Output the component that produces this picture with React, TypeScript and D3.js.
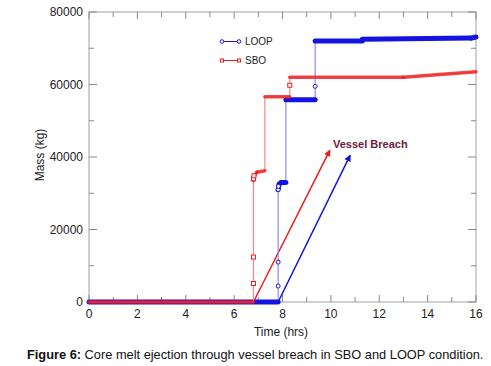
import * as d3 from 'd3';

// SBO case (red) - step-like mass history
const sboTime = [0, 6.8, 6.8, 6.85, 6.95, 7.27, 7.27, 8.3, 8.3, 13.0, 16];
const sboMass = [0, 0, 33500, 35000, 35800, 36200, 56600, 56600, 62000, 62000, 63500];
const sboMarkTime = [6.8, 6.8, 6.8, 6.82, 8.3];
const sboMarkMass = [5100, 12400, 34000, 34800, 59800];

// LOOP case (blue)
const loopTime = [0, 7.82, 7.82, 7.86, 7.95, 8.14, 8.14, 9.35, 9.35, 11.3, 11.3, 15.8, 16];
const loopMass = [0, 0, 31000, 32500, 33000, 33000, 55800, 55800, 72000, 72000, 72500, 72800, 73100];
const loopMarkTime = [7.82, 7.82, 7.82, 7.83, 9.35];
const loopMarkMass = [4400, 11000, 31000, 31900, 59500];

// vessel breach arrows [t0, m0, t1, m1]
const sboArrow = [6.8, 0, 9.96, 41900];
const loopArrow = [7.82, 0, 10.8, 40500];

const xTicks = [0, 2, 4, 6, 8, 10, 12, 14, 16];
const yTicks = [0, 20000, 40000, 60000, 80000];

const W = 491;
const H = 366;
const left = 89, right = 476, top = 12, bottom = 302;

const RED = '#ee1c1c';
const RED_LIGHT = '#f28a8a';
const BLUE = '#1414e0';
const BLUE_LIGHT = '#8c8cf0';
const FONT = 'Arial, "Liberation Sans", sans-serif';

export default function App() {
  const x = d3.scaleLinear().domain([0, 16]).range([left, right]);
  const y = d3.scaleLinear().domain([0, 80000]).range([bottom, top]);

  const line = d3.line<[number, number]>().x(d => x(d[0])).y(d => y(d[1]));

  const pts = (t: number[], m: number[]) => t.map((v, i) => [v, m[i]] as [number, number]);
  const sboPts = pts(sboTime, sboMass);
  const loopPts = pts(loopTime, loopMass);

  // thick segments for non-vertical parts (dense markers in original)
  const flat = (p: [number, number][]) => {
    const out: [number, number][][] = [];
    for (let i = 1; i < p.length; i++) {
      if (p[i][0] !== p[i - 1][0]) out.push([p[i - 1], p[i]]);
    }
    return out;
  };

  const xMinor = d3.range(0, 17, 1);
  const yMinor = d3.range(0, 80001, 10000);

  const arrow = (a: number[], color: string, id: string) => (
    <line x1={x(a[0])} y1={y(a[1])} x2={x(a[2])} y2={y(a[3])}
      stroke={color} strokeWidth={1.5} markerEnd={`url(#${id})`} />
  );

  return (
    <svg width={W} height={H} style={{ position: 'absolute', left: 0, top: 0, background: '#fff' }}
      fontFamily={FONT}>
      <defs>
        <marker id="ahR" viewBox="0 0 10 10" refX="9" refY="5" markerWidth="4.5" markerHeight="4.5" orient="auto">
          <path d="M0,0 L10,5 L0,10 z" fill={RED} />
        </marker>
        <marker id="ahB" viewBox="0 0 10 10" refX="9" refY="5" markerWidth="4.5" markerHeight="4.5" orient="auto">
          <path d="M0,0 L10,5 L0,10 z" fill={BLUE} />
        </marker>
      </defs>

      {/* frame */}
      <rect x={left} y={top} width={right - left} height={bottom - top} fill="none" stroke="#a0a0a0" strokeWidth={1} />

      {/* ticks */}
      {xMinor.map(t => {
        const major = t % 2 === 0;
        const len = major ? 7 : 5;
        return (
          <g key={'xt' + t} stroke="#888">
            <line x1={x(t)} x2={x(t)} y1={bottom} y2={bottom - len} />
            <line x1={x(t)} x2={x(t)} y1={top} y2={top + len} />
          </g>
        );
      })}
      {yMinor.map(v => {
        const major = v % 20000 === 0;
        const len = major ? 8 : 5;
        return (
          <g key={'yt' + v} stroke="#888">
            <line x1={left} x2={left + len} y1={y(v)} y2={y(v)} />
            <line x1={right} x2={right - len} y1={y(v)} y2={y(v)} />
          </g>
        );
      })}

      {xTicks.map(t => (
        <text key={'xl' + t} x={x(t)} y={bottom + 16} textAnchor="middle" fontSize={12} fill="#222">{t}</text>
      ))}
      {yTicks.map(v => (
        <text key={'yl' + v} x={left - 6} y={y(v) + 4} textAnchor="end" fontSize={12} fill="#222">{v}</text>
      ))}

      <text x={281} y={336} textAnchor="middle" fontSize={12} fill="#222">Time (hrs)</text>
      <text transform={`translate(44,155) rotate(-90)`} textAnchor="middle" fontSize={12} fill="#222">Mass (kg)</text>

      {/* arrows */}
      {arrow(sboArrow, RED, 'ahR')}
      {arrow(loopArrow, BLUE, 'ahB')}

      {/* LOOP */}
      <path d={line(loopPts) ?? ''} fill="none" stroke={BLUE_LIGHT} strokeWidth={1.2} />
      {flat(loopPts).map((s, i) => (
        <path key={'lf' + i} d={line(s) ?? ''} fill="none" stroke={BLUE} strokeWidth={5} strokeLinecap="round" />
      ))}
      {loopMarkTime.map((t, i) => (
        <circle key={'lm' + i} cx={x(t)} cy={y(loopMarkMass[i])} r={2} fill="#fff" stroke={BLUE} strokeWidth={1} />
      ))}

      {/* SBO */}
      <path d={line(sboPts) ?? ''} fill="none" stroke={RED_LIGHT} strokeWidth={1.2} />
      {flat(sboPts).map((s, i) => (
        <path key={'sf' + i} d={line(s) ?? ''} fill="none" stroke={RED} strokeOpacity={0.8} strokeWidth={3.5} strokeLinecap="round" />
      ))}
      {sboMarkTime.map((t, i) => (
        <rect key={'sm' + i} x={x(t) - 2} y={y(sboMarkMass[i]) - 2} width={4} height={4} fill="#fff" stroke={RED} strokeWidth={1} />
      ))}

      {/* legend */}
      <g>
        <line x1={222} x2={239} y1={41.5} y2={41.5} stroke={BLUE} strokeWidth={1} />
        <circle cx={222} cy={41.5} r={1.8} fill="#fff" stroke={BLUE} />
        <circle cx={239} cy={41.5} r={1.8} fill="#fff" stroke={BLUE} />
        <text x={245} y={45} fontSize={10} fill="#222">LOOP</text>
        <line x1={222} x2={239} y1={60.5} y2={60.5} stroke={RED} strokeWidth={1} />
        <rect x={220.5} y={59} width={3} height={3} fill="#fff" stroke={RED} />
        <rect x={237.5} y={59} width={3} height={3} fill="#fff" stroke={RED} />
        <text x={245} y={64} fontSize={10} fill="#222">SBO</text>
      </g>

      <text x={333} y={148} fontSize={11} fontWeight="bold" fill="#6b1a3f">Vessel Breach</text>

      <text x={27} y={359} fontSize={12.8} fill="#111">
        <tspan fontWeight="bold">Figure 6:</tspan> Core melt ejection through vessel breach in SBO and LOOP condition.
      </text>
    </svg>
  );
}
